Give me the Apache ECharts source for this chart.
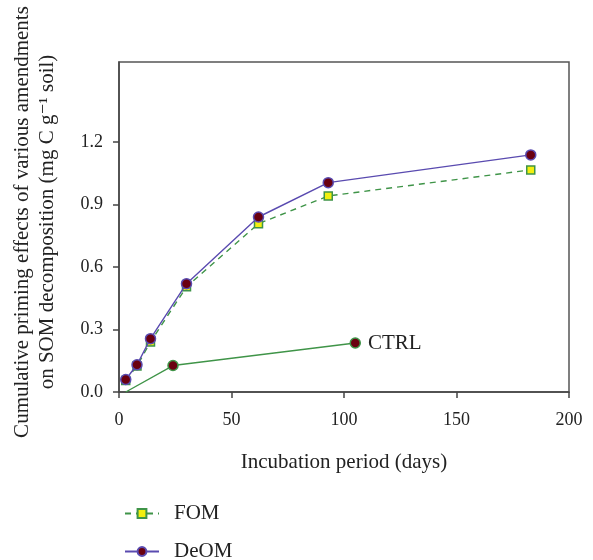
<!DOCTYPE html>
<html>
<head>
<meta charset="utf-8">
<script src="https://cdn.jsdelivr.net/npm/echarts@6/dist/echarts.min.js"></script>
<style>html,body{margin:0;padding:0;background:#fff}#c{width:593px;height:560px}</style>
</head>
<body>
<div id="c"></div>
<script>
// ---- data ----
const days = [3, 8, 14, 30, 62, 93, 183];
const fomValues = [0.055, 0.125, 0.24, 0.505, 0.808, 0.941, 1.066];
const deomValues = [0.06, 0.131, 0.256, 0.52, 0.84, 1.005, 1.138];
const ctrlDays = [3, 24, 105];
const ctrlValues = [0, 0.127, 0.235];
const xTicks = [0, 50, 100, 150, 200];
const yTicks = [0, 0.3, 0.6, 0.9, 1.2];
const seriesNames = ['FOM', 'DeOM', 'CTRL'];
const xTitle = 'Incubation period (days)';
const yTitle = ['Cumulative priming effects of various amendments', 'on SOM decomposition (mg C g\u207B\u00B9 soil)'];

const FONT = '"Liberation Serif", "DejaVu Serif", serif';
const chart = echarts.init(document.getElementById('c'), null, {renderer: 'canvas'});

const pair = (xs, ys) => xs.map((x, i) => [x, ys[i]]);

const ctrlData = pair(ctrlDays, ctrlValues).map((p, i) => {
  const item = {value: p};
  if (i === 0) item.symbol = 'none';
  if (i === ctrlDays.length - 1) {
    item.label = {show: true, position: 'right', distance: 7, formatter: seriesNames[2],
      fontFamily: FONT, fontSize: 21, color: '#222'};
  }
  return item;
});

const legendBase = {
  orient: 'vertical', left: 119,
  itemWidth: 34, itemHeight: 11,
  textStyle: {fontFamily: FONT, fontSize: 21, color: '#222', padding: [0, 0, 0, 10]}
};

chart.setOption({
  animation: false,
  backgroundColor: '#fff',
  grid: {left: 119, right: 24, top: 62, bottom: 168, show: true, borderColor: '#555', borderWidth: 1.5, backgroundColor: 'transparent'},
  xAxis: {
    type: 'value', min: 0, max: 200, interval: 50,
    name: xTitle, nameLocation: 'middle', nameGap: 60,
    nameTextStyle: {fontFamily: FONT, fontSize: 21, color: '#222'},
    axisLine: {show: true, lineStyle: {color: '#444', width: 1.5}},
    axisTick: {show: true, inside: false, length: 6, lineStyle: {color: '#444', width: 1.5}, customValues: xTicks},
    axisLabel: {fontFamily: FONT, fontSize: 18, color: '#222', margin: 19, customValues: xTicks},
    splitLine: {show: false}
  },
  yAxis: {
    type: 'value', min: 0, max: 1.584,
    axisLine: {show: true, lineStyle: {color: '#444', width: 1.5}},
    axisTick: {show: true, inside: false, length: 6, lineStyle: {color: '#444', width: 1.5}, customValues: yTicks},
    axisLabel: {fontFamily: FONT, fontSize: 18, color: '#222', margin: 16, customValues: yTicks,
      formatter: v => v.toFixed(1)},
    splitLine: {show: false}
  },
  legend: [
    Object.assign({}, legendBase, {top: 498, data: [seriesNames[0]]}),
    Object.assign({}, legendBase, {top: 536, data: [seriesNames[1]]})
  ],
  graphic: [{
    type: 'text', x: 35, y: 222, rotation: Math.PI / 2,
    style: {text: yTitle.join('\n'), font: '21px ' + FONT, fill: '#222',
      align: 'center', verticalAlign: 'middle', lineHeight: 25}
  }],
  series: [
    {
      name: seriesNames[0], type: 'line', data: pair(days, fomValues),
      symbol: 'rect', symbolSize: 8,
      itemStyle: {color: '#f2ef10', borderColor: '#3f9448', borderWidth: 1.5},
      lineStyle: {color: '#3f9448', width: 1.4, type: [6, 5]},
      z: 2
    },
    {
      name: seriesNames[1], type: 'line', data: pair(days, deomValues),
      symbol: 'circle', symbolSize: 10,
      itemStyle: {color: '#6a0010', borderColor: '#5a4bb0', borderWidth: 1.5},
      lineStyle: {color: '#5a4bb0', width: 1.4},
      z: 3
    },
    {
      name: seriesNames[2], type: 'line', data: ctrlData,
      symbol: 'circle', symbolSize: 10,
      itemStyle: {color: '#6a0010', borderColor: '#3f9448', borderWidth: 1.5},
      lineStyle: {color: '#3f9448', width: 1.4},
      z: 2
    }
  ]
});
</script>
</body>
</html>
